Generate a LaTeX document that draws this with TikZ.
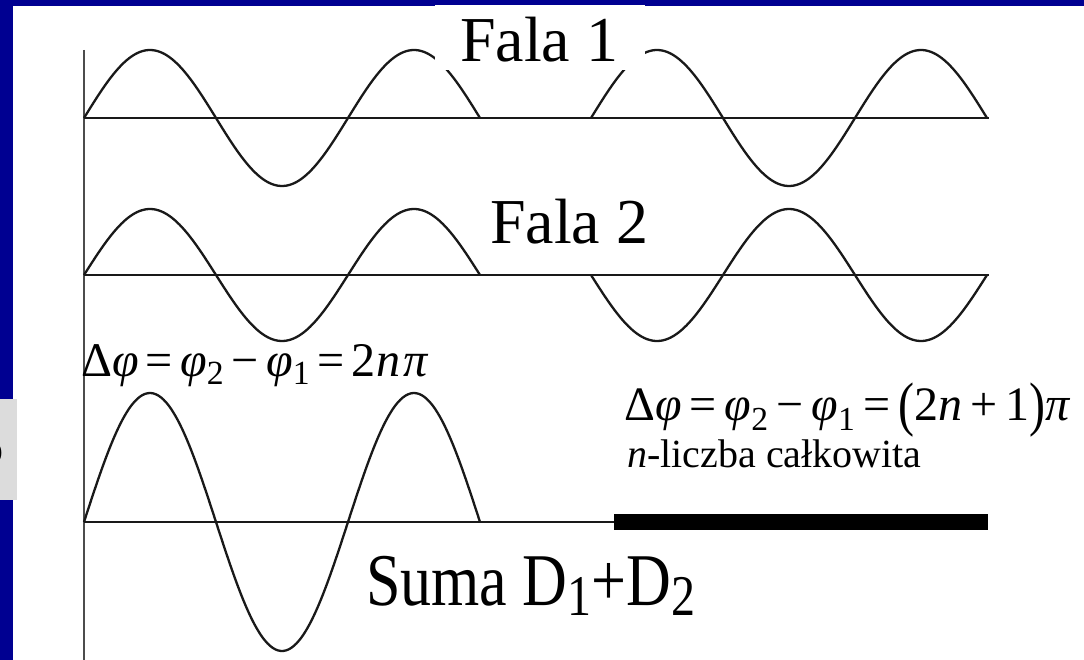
\documentclass[tikz,border=0pt]{standalone}
\usepackage{fontspec}
\setmainfont{Liberation Serif}
\usepackage{graphicx}
\definecolor{navy}{RGB}{0,0,145}
\definecolor{lgray}{RGB}{220,220,220}
\tikzset{
  wave/.style={line width=2.3pt, black!90, line join=round},
  axisline/.style={line width=2.2pt, black!90},
  vaxis/.style={line width=2.6pt, black!70},
  lbl/.style={inner sep=0pt, anchor=base west, text=black},
}
\begin{document}
\begin{tikzpicture}[x=1pt,y=-1pt]
\useasboundingbox (0,0) rectangle (1084,660);
% background
\fill[navy] (0,0) rectangle (1084,660);
\fill[white] (12.5,6) rectangle (1084,660);
% gray side box with cut glyph
\fill[lgray] (0,399) rectangle (17,500);
\begin{scope}
\clip (0,399) rectangle (17,500);
\node[lbl] (cut) at (-19,463) {\fontsize{44}{50}\selectfont o};
\end{scope}
% vertical axis
\coordinate (vtop) at (84,50);
\coordinate (vbot) at (84,662);
\draw[vaxis] (vtop) -- (vbot);
% wave 1
\coordinate (a1l) at (84,118);
\coordinate (a1r) at (989,118);
\draw[axisline] (a1l) -- (a1r);
\draw[wave] plot[domain=0:540, samples=150, smooth] ({84+(\x/360)*264},{118-68*sin(\x)});
\draw[wave] plot[domain=0:540, samples=150, smooth] ({591+(\x/360)*264},{118-68*sin(\x)});
% wave 2
\coordinate (a2l) at (84,275);
\coordinate (a2r) at (989,275);
\draw[axisline] (a2l) -- (a2r);
\draw[wave] plot[domain=0:540, samples=150, smooth] ({84+(\x/360)*264},{275-66*sin(\x)});
\draw[wave] plot[domain=0:540, samples=150, smooth] ({591+(\x/360)*264},{275+66*sin(\x)});
% sum
\coordinate (a3l) at (84,522);
\coordinate (a3m) at (614,522);
\coordinate (a3r) at (988,522);
\draw[axisline] (a3l) -- (a3m);
\draw[line width=16pt, black] (a3m) -- (a3r);
\draw[wave] plot[domain=0:540, samples=150, smooth] ({84+(\x/360)*264},{522-129*sin(\x)});
% label Fala 1 with white box
\fill[white] (435,5) rectangle (645,70);
\node[lbl] (fala1) at (460,62) {\fontsize{64}{70}\selectfont Fala 1};
\node[lbl] (fala2) at (490,244) {\fontsize{64}{70}\selectfont Fala 2};
% formulas
\node[lbl] (f1) at (81,376) {\resizebox{348pt}{32pt}{\fontsize{30}{36}\selectfont Δ\textit{φ}\hspace{0.15em}=\hspace{0.15em}\textit{φ}\textsubscript{2}\hspace{0.15em}−\hspace{0.15em}\textit{φ}\textsubscript{1}\hspace{0.15em}=\hspace{0.15em}2\textit{n}\hspace{0.08em}\textit{π}}};
\node[lbl] (f2) at (624,420) {\fontsize{48}{56}\selectfont Δ\textit{φ}\,=\,\textit{φ}\raisebox{3pt}{\textsubscript{2}}\,−\,\textit{φ}\raisebox{3pt}{\textsubscript{1}}\,=\,\raisebox{-4pt}{\scalebox{1}[1.25]{(}}2\textit{n}\,+\,1\raisebox{-4pt}{\scalebox{1}[1.25]{)}}\textit{π}};
\node[lbl] (nlicz) at (627,467) {\fontsize{40}{46}\selectfont \textit{n}-liczba całkowita};
\node[lbl] (suma) at (366,605) {\scalebox{1}[1.2]{\fontsize{62}{70}\selectfont Suma D\raisebox{-9pt}{\fontsize{48}{50}\selectfont 1}+D\raisebox{-9pt}{\fontsize{48}{50}\selectfont 2}}};
\end{tikzpicture}
\end{document}
